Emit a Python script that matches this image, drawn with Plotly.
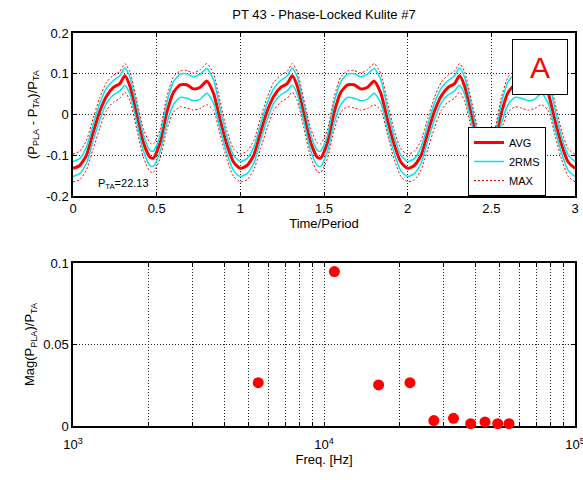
import plotly.graph_objects as go
import numpy as np

# ---- Data: one phase-locked period, repeated for 3 periods ----
t_period = [0.00, 0.04, 0.08, 0.12, 0.16, 0.20, 0.24, 0.28, 0.31, 0.34, 0.38, 0.42, 0.46,
            0.48, 0.52, 0.56, 0.60, 0.64, 0.68, 0.72, 0.76, 0.80, 0.84, 0.88, 0.92, 0.96]
avg = [-0.132, -0.125, -0.100, -0.045, 0.008, 0.045, 0.066, 0.076, 0.095, 0.070, 0.003, -0.068,
       -0.105, -0.107, -0.070, 0.004, 0.054, 0.073, 0.073, 0.063, 0.067, 0.082, 0.052, -0.014,
       -0.074, -0.117]
rms_hi = [-0.115, -0.108, -0.080, -0.025, 0.028, 0.064, 0.083, 0.095, 0.114, 0.092, 0.024, -0.048,
          -0.088, -0.090, -0.052, 0.028, 0.080, 0.099, 0.100, 0.093, 0.099, 0.113, 0.085, 0.014,
          -0.055, -0.100]
rms_lo = [-0.152, -0.145, -0.120, -0.065, -0.013, 0.028, 0.048, 0.058, 0.072, 0.050, -0.018, -0.088,
          -0.125, -0.127, -0.092, -0.022, 0.024, 0.042, 0.040, 0.034, 0.038, 0.052, 0.028, -0.036,
          -0.095, -0.138]
max_hi = [-0.097, -0.090, -0.064, -0.010, 0.042, 0.079, 0.096, 0.106, 0.125, 0.105, 0.036, -0.034,
          -0.070, -0.072, -0.038, 0.042, 0.092, 0.107, 0.108, 0.102, 0.110, 0.125, 0.100, 0.030,
          -0.040, -0.085]
max_lo = [-0.165, -0.160, -0.136, -0.085, -0.033, 0.010, 0.030, 0.040, 0.055, 0.034, -0.034, -0.104,
          -0.140, -0.142, -0.108, -0.038, 0.006, 0.019, 0.016, 0.011, 0.015, 0.024, 0.010, -0.050,
          -0.110, -0.152]
n_periods = 3

freq_hz = [5470, 11000, 16500, 22000, 27400, 32800, 38400, 43800, 49200, 54600]
mag = [0.0266, 0.0947, 0.0252, 0.0266, 0.0033, 0.0047, 0.0014, 0.0025, 0.0014, 0.0014]

top_xticks = [0, 0.5, 1, 1.5, 2, 2.5, 3]
top_xlabels = ["0", "0.5", "1", "1.5", "2", "2.5", "3"]
top_yticks = [-0.2, -0.1, 0, 0.1, 0.2]
top_ylabels = ["-0.2", "-0.1", "0", "0.1", "0.2"]
bot_yticks = [0, 0.05, 0.1]
bot_ylabels = ["0", "0.05", "0.1"]
decade_labels = {1000: "10<sup>3</sup>", 10000: "10<sup>4</sup>", 100000: "10<sup>5</sup>"}


def repeat(vals, times):
    out = []
    for k in range(n_periods):
        out += [v + k for v in vals] if times else list(vals)
    out.append(n_periods if times else vals[0])
    return out


t_full = repeat(t_period, True)

FONT = "Liberation Sans, Arial, sans-serif"
fig = go.Figure()

spl = dict(shape="spline", smoothing=0.6)
fig.add_trace(go.Scatter(x=t_full, y=repeat(avg, False), mode="lines", name="AVG",
                         line=dict(color="#ff0000", width=3, **spl), xaxis="x", yaxis="y"))
fig.add_trace(go.Scatter(x=t_full, y=repeat(rms_hi, False), mode="lines", name="2RMS",
                         line=dict(color="#00e5ee", width=1.5, **spl), xaxis="x", yaxis="y",
                         legendgroup="rms"))
fig.add_trace(go.Scatter(x=t_full, y=repeat(rms_lo, False), mode="lines", name="2RMS", showlegend=False,
                         line=dict(color="#00e5ee", width=1.5, **spl), xaxis="x", yaxis="y",
                         legendgroup="rms"))
fig.add_trace(go.Scatter(x=t_full, y=repeat(max_hi, False), mode="lines", name="MAX",
                         line=dict(color="#ff0000", width=1, dash="2px,2px", **spl), xaxis="x", yaxis="y",
                         legendgroup="max"))
fig.add_trace(go.Scatter(x=t_full, y=repeat(max_lo, False), mode="lines", name="MAX", showlegend=False,
                         line=dict(color="#ff0000", width=1, dash="2px,2px", **spl), xaxis="x", yaxis="y",
                         legendgroup="max"))

fig.add_trace(go.Scatter(x=freq_hz, y=mag, mode="markers", showlegend=False,
                         marker=dict(color="#ff0000", size=11, line=dict(width=0)),
                         cliponaxis=False, xaxis="x2", yaxis="y2"))

log_ticks = [m * 10 ** e for e in (3, 4) for m in range(1, 10)] + [100000]
log_labels = [decade_labels.get(v, "") for v in log_ticks]

axis_common = dict(showline=True, linecolor="black", linewidth=1.5, mirror="ticks",
                   ticks="inside", ticklen=4, tickcolor="black", showgrid=True,
                   gridcolor="#222222", griddash="1px,2px", gridwidth=1, zeroline=False,
                   layer="below traces", automargin=False, ticklabeloverflow="allow",
                   tickfont=dict(size=13, color="black", family=FONT))

fig.update_layout(
    width=583, height=480,
    margin=dict(l=73, r=8, t=33, b=54),
    paper_bgcolor="white", plot_bgcolor="white",
    font=dict(family=FONT, size=13, color="black"),
    title=dict(text="PT 43 - Phase-Locked Kulite #7", x=324 / 583, xanchor="center",
               y=1 - 14 / 480, yanchor="middle", font=dict(size=13, family=FONT)),
    xaxis=dict(domain=[0, 1], range=[0, 3], tickvals=top_xticks, ticktext=top_xlabels,
               title=dict(text="Time/Period", standoff=2, font=dict(size=13)), anchor="y",
               **axis_common),
    yaxis=dict(domain=[0.585, 1], range=[-0.2, 0.2], tickvals=top_yticks, ticktext=top_ylabels,
               title=dict(text="(P<sub>PLA</sub> - P<sub>TA</sub>)/P<sub>TA</sub>", standoff=6,
                          font=dict(size=13)), anchor="x", **axis_common),
    xaxis2=dict(domain=[0, 1], type="log", range=[2.99999, 5.00001], tickvals=log_ticks,
                ticktext=log_labels, ticklabelstandoff=6,
                title=dict(text="Freq. [Hz]", standoff=0, font=dict(size=13)), anchor="y2",
                **axis_common),
    yaxis2=dict(domain=[0, 0.4148], range=[0, 0.1], tickvals=bot_yticks, ticktext=bot_ylabels,
                title=dict(text="Mag(P<sub>PLA</sub>)/P<sub>TA</sub>", standoff=6, font=dict(size=13)),
                anchor="x2", **axis_common),
    legend=dict(x=(468 - 73) / 502, y=(426 - 127) / 393, xanchor="left", yanchor="top",
                bgcolor="white", bordercolor="black", borderwidth=1,
                font=dict(size=11, family=FONT), tracegroupgap=0, entrywidth=42),
    showlegend=True,
)

fig.add_annotation(text="A", xref="paper", yref="paper", x=(540 - 73) / 502, y=(426 - 67) / 393,
                   xanchor="center", yanchor="middle", showarrow=False, width=52, height=52,
                   bgcolor="white", bordercolor="black", borderwidth=1, borderpad=1,
                   font=dict(size=30, color="#ff0000", family=FONT))
fig.add_annotation(text="P<sub>TA</sub>=22.13", xref="paper", yref="paper", x=(96 - 73) / 502,
                   y=(426 - 184) / 393, xanchor="left", yanchor="middle", showarrow=False,
                   font=dict(size=11, color="black", family=FONT))

# Remove the default page margin so the 583x480 figure fills the window exactly.
fig.write_html("out.html", config={"displayModeBar": False},
               post_script="document.body.style.margin='0';document.body.style.overflow='hidden';")
